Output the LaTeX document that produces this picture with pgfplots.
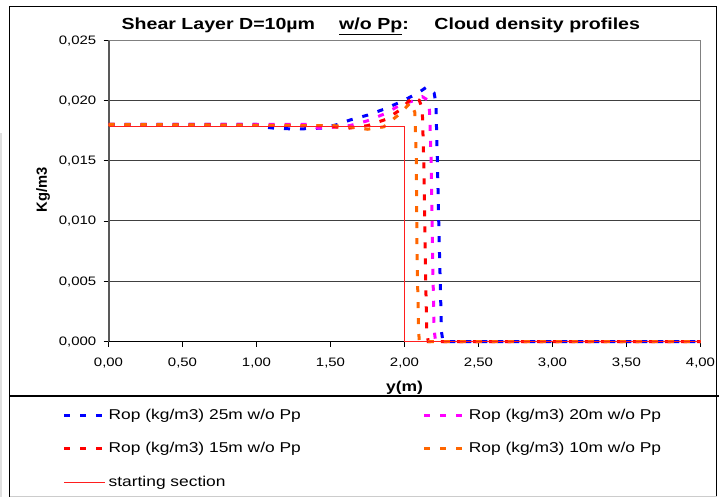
\documentclass[border=0pt]{standalone}
\usepackage{fontspec}
\setmainfont[FakeStretch=1.22]{Liberation Sans}
\newfontfamily\plainsans{Liberation Sans}
\usepackage{pgfplots}
\pgfplotsset{compat=1.18}
\usepackage{pgfplotstable}
\definecolor{cblue}{RGB}{0,0,255}
\definecolor{cmag}{RGB}{255,0,255}
\definecolor{cred}{RGB}{255,0,0}
\definecolor{corange}{RGB}{255,102,0}
\definecolor{cstart}{RGB}{255,30,30}
\definecolor{gridc}{RGB}{64,64,64}

\pgfplotstableread{
x y
0.00 0.0180
1.00 0.0180
1.06 0.01777
1.15 0.01765
1.30 0.01763
1.45 0.01770
1.55 0.01800
1.63 0.01836
1.75 0.01877
1.87 0.01930
1.99 0.01996
2.09 0.02060
2.15 0.02110
2.20 0.02060
2.212 0.01980
2.222 0.01500
2.235 0.00800
2.250 0.00080
2.26 0.0
4.00 0.0
}\tabA
\pgfplotstableread{
x y
0.00 0.0180
1.35 0.0180
1.41 0.01770
1.50 0.01775
1.63 0.0179
1.75 0.0183
1.87 0.0189
1.97 0.0196
2.07 0.0200
2.12 0.0203
2.16 0.0200
2.17 0.0190
2.18 0.0150
2.19 0.0070
2.20 0.0010
2.21 0.0
4.00 0.0
}\tabB
\pgfplotstableread{
x y
0.00 0.0180
1.45 0.0179
1.52 0.0178
1.63 0.0177
1.75 0.0179
1.87 0.0184
1.97 0.0192
2.06 0.0203
2.10 0.0200
2.12 0.0193
2.13 0.0150
2.14 0.0070
2.15 0.0010
2.16 0.0
4.00 0.0
}\tabC
\pgfplotstableread{
x y
0.00 0.0180
1.40 0.0179
1.52 0.0179
1.63 0.0178
1.75 0.0176
1.86 0.0178
1.97 0.0189
2.04 0.0198
2.07 0.0190
2.08 0.0150
2.085 0.0070
2.095 0.0010
2.10 0.0
4.00 0.0
}\tabD
\pgfplotstableread{
x y
0.00 0.0178
2.00 0.0178
2.00 0.0
4.00 0.0
}\tabE

\begin{document}
\begin{tikzpicture}
\useasboundingbox (0,0) rectangle (719bp,-497bp);
\draw[gray!25, line width=2bp] (1bp,-133bp) -- (1bp,-497bp);
\draw[black, line width=1.5bp] (9.5bp,-497bp) -- (9.5bp,-6.5bp) -- (716.5bp,-6.5bp) -- (716.5bp,-497bp);
\draw[black, line width=1.3bp] (9.5bp,-396bp) -- (719bp,-396bp);
\draw[gray!40, line width=1bp] (9.5bp,-496.5bp) -- (716.5bp,-496.5bp);
\begin{axis}[
  at={(108.5bp,-341.5bp)}, anchor=south west,
  scale only axis, width=592bp, height=301.5bp,
  xmin=0, xmax=4, ymin=0, ymax=0.025,
  clip=false,
  xtick={0,0.5,1,1.5,2,2.5,3,3.5,4},
  ytick={0,0.005,0.01,0.015,0.02,0.025},
  scaled x ticks=false, scaled y ticks=false,
  tick pos=left, tick align=outside, major tick length=5bp,
  tick style={black, line width=0.8bp},
  axis line style={draw=none},
  ymajorgrids, grid style={gridc, line width=1bp},
  /pgf/number format/assume math mode=true,
  x tick label style={/pgf/number format/.cd, fixed, fixed zerofill, precision=2, use comma, /tikz/.cd,
     anchor=base, yshift=-20bp, font=\fontsize{12.3}{14}\selectfont},
  y tick label style={/pgf/number format/.cd, fixed, fixed zerofill, precision=3, use comma, /tikz/.cd,
     anchor=base east, inner sep=0pt, xshift=-7bp, yshift=-4bp, font=\fontsize{12.3}{14}\selectfont},
  xlabel={\bfseries y(m)},
  xlabel style={at={(axis description cs:0.5,-0.154)}, anchor=center, font=\fontsize{14.4}{16}\selectfont},
  ylabel={\plainsans\bfseries Kg/m3},
  ylabel style={at={(axis description cs:-0.1106,0.503)}, anchor=center, font=\fontsize{14.8}{16}\selectfont},
  title={\bfseries Shear Layer D=10µm\hspace{1.5em}\underline{w/o Pp}:\hspace{1.6em}Cloud density profiles},
  title style={at={(axis description cs:0.460,1.0166)}, anchor=base, font=\fontsize{16.1}{18}\selectfont},
  legend columns=2,
  legend image code/.code={\draw[#1] (0bp,0bp) -- (41bp,0bp);},
  legend style={at={(axis description cs:-0.0828,-0.210)}, anchor=north west,
     draw=none, fill=none, font=\fontsize{14.3}{16}\selectfont,
     nodes={inner sep=1bp, text height=11bp, text depth=3bp},
     row sep=17.5bp,
     /tikz/every even column/.append style={column sep=121bp},
     /tikz/every odd column/.append style={column sep=1bp},
     cells={anchor=west}},
]
\draw[gray!70!black, line width=2bp] (rel axis cs:0,0) -- (rel axis cs:0,1);
\draw[gray, line width=1bp] (rel axis cs:0,1) -- (rel axis cs:1,1) -- (rel axis cs:1,0);
\draw[black, line width=1.2bp] (rel axis cs:0,0) -- (rel axis cs:1,0);
\addplot[cblue, line width=3bp, dash pattern=on 6bp off 10bp] table[x=x,y=y] {\tabA};
\addlegendentry{Rop (kg/m3) 25m w/o Pp}
\addplot[cmag, line width=3bp, dash pattern=on 6bp off 10bp] table[x=x,y=y] {\tabB};
\addlegendentry{Rop (kg/m3) 20m w/o Pp}
\addplot[cred, line width=3bp, dash pattern=on 6bp off 10bp] table[x=x,y=y] {\tabC};
\addlegendentry{Rop (kg/m3) 15m w/o Pp}
\addplot[corange, line width=3bp, dash pattern=on 6bp off 10bp] table[x=x,y=y] {\tabD};
\addlegendentry{Rop (kg/m3) 10m w/o Pp}
\addplot[cstart, line width=1bp] table[x=x,y=y] {\tabE};
\addlegendentry{starting section}
\end{axis}
\end{tikzpicture}
\end{document}
